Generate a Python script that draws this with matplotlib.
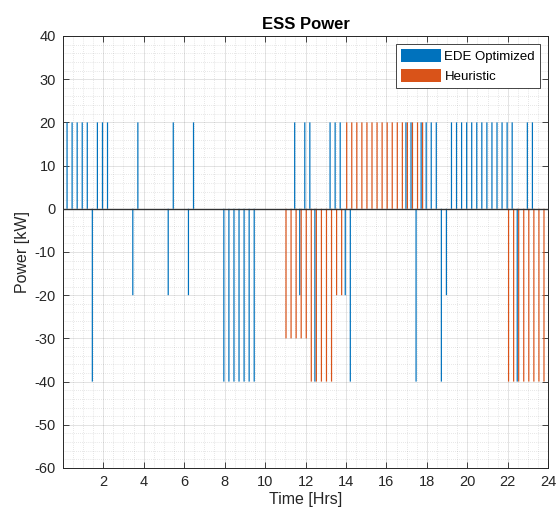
import numpy as np
import matplotlib
matplotlib.use("Agg")
import matplotlib.pyplot as plt
from matplotlib.ticker import MultipleLocator

plt.rcParams['font.family'] = ['Liberation Sans', 'DejaVu Sans']
plt.rcParams['axes.unicode_minus'] = False

# intervalos de 15 min (0.25 h), 96 pasos
tiempo = np.arange(1, 97) * 0.25

ede_optimizado = [
    20, 20, 20, 20, 20, -40, 20, 20, 20, 0, 0, 0,
    0, -20, 20, 0, 0, 0, 0, 0, -20, 20, 0, 0,
    -20, 20, 0, 0, 0, 0, 0, -40, -40, -40, -40, -40,
    -40, -40, 0, 0, 0, 0, 0, 0, 0, 20, -20, 20,
    20, -40, 0, 0, 20, 20, 20, -20, -40, 0, 0, 0,
    0, 0, 0, 0, 0, 0, 0, 20, 20, -40, 20, 20,
    20, 20, -40, -20, 20, 20, 20, 20, 20, 20, 20, 20,
    20, 20, 20, 20, 20, -40, 0, 20, 20, 0, 0, 0,
]

heuristico = [
    0, 0, 0, 0, 0, 0, 0, 0, 0, 0, 0, 0,
    0, 0, 0, 0, 0, 0, 0, 0, 0, 0, 0, 0,
    0, 0, 0, 0, 0, 0, 0, 0, 0, 0, 0, 0,
    0, 0, 0, 0, 0, 0, 0, -30, -30, -30, -30, -30,
    -40, -40, -40, -40, -40, -20, -20, 20, 20, 20, 20, 20,
    20, 20, 20, 20, 20, 20, 20, 20, 20, 20, 20, 0,
    0, 0, 0, 0, 0, 0, 0, 0, 0, 0, 0, 0,
    0, 0, 0, -40, -40, -40, -40, -40, -40, -40, -40, -40,
]

etiquetas = ["EDE Optimized", "Heuristic"]
azul = "#0072BD"
naranja = "#D95319"
gris = "#262626"

fig = plt.figure(figsize=(5.57, 5.14), dpi=100)
ax = fig.add_axes([0.1126, 0.0895, 0.8718, 0.8405])

# barras agrupadas estilo MATLAB (desplazamiento pequeño a cada lado)
desfase = 0.036
ancho = 0.06
b1 = ax.bar(tiempo - desfase, ede_optimizado, width=ancho, color=azul,
            label=etiquetas[0], zorder=3, linewidth=0)
b2 = ax.bar(tiempo + desfase, heuristico, width=ancho, color=naranja,
            label=etiquetas[1], zorder=3, linewidth=0)
for barra in list(b1) + list(b2):
    barra.set_snap(False)
    barra.set_antialiased(True)
ax.axhline(0, color="#333333", lw=1.0, zorder=4)

ax.set_xlim(0, 24)
ax.set_ylim(-60, 40)
ax.set_xticks(np.arange(2, 25, 2))
ax.set_yticks(np.arange(-60, 41, 10))
ax.xaxis.set_minor_locator(MultipleLocator(0.5))
ax.yaxis.set_minor_locator(MultipleLocator(2))

ax.grid(True, which="major", color=gris, alpha=0.15, lw=0.6, zorder=0)
ax.grid(True, which="minor", color=gris, alpha=0.22, lw=0.5,
        linestyle=(0, (1, 2)), zorder=0)
ax.tick_params(which="major", direction="in", top=True, right=True,
               length=4, width=0.6, colors=gris, labelsize=10.5, pad=5)
ax.tick_params(which="minor", length=0)
for lado in ax.spines.values():
    lado.set_color(gris)
    lado.set_linewidth(0.7)

ax.set_title("ESS Power", fontsize=12, fontweight="bold", pad=5)
ax.set_xlabel("Time [Hrs]", fontsize=11.5, color=gris, labelpad=2)
ax.set_ylabel("Power [kW]", fontsize=11.5, color=gris, labelpad=3)

ley = ax.legend(loc="upper right", fontsize=9.5, handlelength=3.0,
                handleheight=1.1, borderaxespad=0.6, fancybox=False,
                framealpha=1, edgecolor=gris, borderpad=0.4,
                labelspacing=0.45, handletextpad=0.3)
ley.get_frame().set_linewidth(0.6)

fig.savefig("out.png", dpi=100)
